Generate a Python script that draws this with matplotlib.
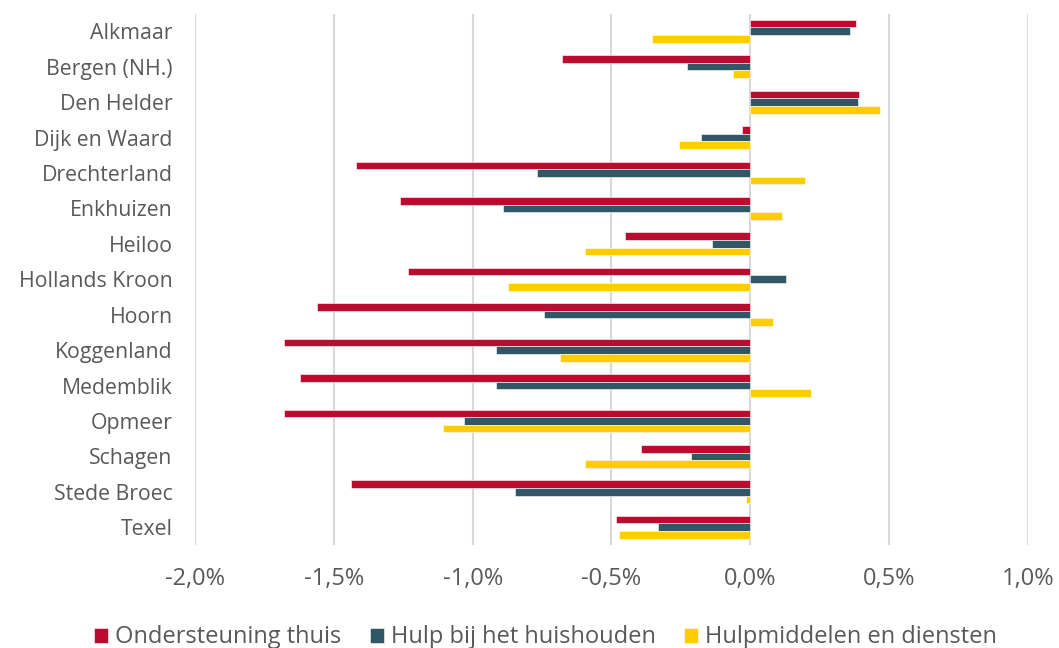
import numpy as np
import matplotlib
matplotlib.use("Agg")
import matplotlib.pyplot as plt
from matplotlib.ticker import FuncFormatter

plt.rcParams["font.family"] = ["Open Sans", "DejaVu Sans"]

gemeenten = [
    "Alkmaar", "Bergen (NH.)", "Den Helder", "Dijk en Waard", "Drechterland",
    "Enkhuizen", "Heiloo", "Hollands Kroon", "Hoorn", "Koggenland",
    "Medemblik", "Opmeer", "Schagen", "Stede Broec", "Texel",
]
ondersteuning = [0.382, -0.678, 0.391, -0.029, -1.419, -1.263, -0.451, -1.232,
                 -1.561, -1.680, -1.622, -1.680, -0.392, -1.438, -0.483]
huishouden = [0.359, -0.229, 0.389, -0.177, -0.769, -0.892, -0.137, 0.130,
              -0.744, -0.916, -0.915, -1.031, -0.213, -0.849, -0.333]
hulpmiddelen = [-0.355, -0.062, 0.466, -0.258, 0.197, 0.113, -0.595, -0.872,
                0.080, -0.685, 0.217, -1.105, -0.596, -0.017, -0.472]

series = [
    ("Ondersteuning thuis", ondersteuning, "#BA0C2F"),
    ("Hulp bij het huishouden", huishouden, "#2F5766"),
    ("Hulpmiddelen en diensten", hulpmiddelen, "#FFCC00"),
]

grey = "#595959"
fig = plt.figure(figsize=(10.59, 6.48), dpi=100)
ax = fig.add_axes([0.1841, 0.159, 0.7866, 0.819])

y = np.arange(len(gemeenten))
h = 0.215
for i, (name, vals, col) in enumerate(series):
    ax.barh(y + (i - 1) * h, np.array(vals) / 100, height=h, color=col,
            edgecolor="white", linewidth=0.4, label=name, zorder=3)

ax.set_xlim(-0.02, 0.01)
ax.set_xticks(np.arange(-0.02, 0.0101, 0.005))
ax.xaxis.set_major_formatter(FuncFormatter(lambda v, _: f"{v * 100:.1f}%".replace(".", ",").replace("-0,0", "0,0")))
ax.set_ylim(len(gemeenten) - 0.5, -0.48)
ax.set_yticks(y)
ax.set_yticklabels(gemeenten)
ax.grid(axis="x", color="#D9D9D9", linewidth=1.5, zorder=0)
for s in ax.spines.values():
    s.set_visible(False)
ax.tick_params(axis="both", length=0, colors=grey)
ax.tick_params(axis="y", labelsize=15.3, pad=16)
ax.tick_params(axis="x", labelsize=17, pad=16)

leg = fig.legend(loc="lower center", bbox_to_anchor=(0.515, -0.035), ncol=3,
                 frameon=False, fontsize=17, handlelength=0.6, handleheight=0.6,
                 handletextpad=0.3, columnspacing=1.2)
for t in leg.get_texts():
    t.set_color(grey)

fig.savefig("out.png", dpi=100)
